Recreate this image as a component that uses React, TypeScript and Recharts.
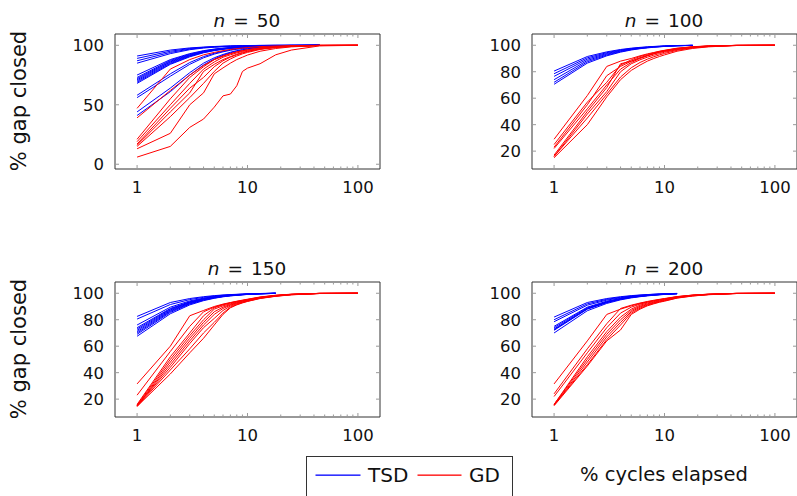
import React from 'react';
import { LineChart, Line, XAxis, YAxis } from 'recharts';

// ---------- data ----------
const cycles = [1, 2, 3, 4, 5, 6, 7, 8, 9, 10, 13, 18, 25, 45, 100];
const majorXTicks = [1, 10, 100];
const allXTicks = [1, 2, 3, 4, 5, 6, 7, 8, 9, 10, 20, 30, 40, 50, 60, 70, 80, 90, 100];
const xTickLabels = ['1', '10', '100'];
const yTicksN50 = [0, 50, 100];
const yTicksOther = [20, 40, 60, 80, 100];
const panelTitles = ['50', '100', '150', '200'];
const seriesNames = ['TSD', 'GD'];

const tsdN50 = [
  [91, 96, 97.8, 98.5, 99, 99.3, 99.5, 99.6, 99.7, 99.8, 99.9, 100, 100, 100],
  [89, 95, 97.3, 98.3, 98.8, 99.1, 99.3, 99.5, 99.6, 99.7, 99.9, 100, 100, 100],
  [87, 94, 96.8, 98, 98.6, 99, 99.2, 99.4, 99.5, 99.6, 99.8, 99.9, 100, 100],
  [85, 93, 96.3, 97.7, 98.4, 98.8, 99.1, 99.3, 99.4, 99.5, 99.8, 99.9, 100, 100],
  [75, 88, 93, 95.5, 96.8, 97.6, 98.1, 98.5, 98.8, 99, 99.4, 99.7, 99.9, 100],
  [73, 87.3, 92.5, 95.2, 96.6, 97.4, 98, 98.4, 98.7, 98.9, 99.3, 99.7, 99.9, 100],
  [72, 86.6, 92, 94.9, 96.4, 97.3, 97.9, 98.3, 98.6, 98.8, 99.3, 99.6, 99.9, 100],
  [71, 86, 91.6, 94.6, 96.2, 97.1, 97.7, 98.2, 98.5, 98.7, 99.2, 99.6, 99.8, 100],
  [70, 85.3, 91.2, 94.3, 96, 97, 97.6, 98.1, 98.4, 98.7, 99.2, 99.6, 99.8, 100],
  [69, 84.6, 90.8, 94, 95.8, 96.8, 97.5, 98, 98.3, 98.6, 99.1, 99.5, 99.8, 100],
  [68, 84, 90.3, 93.7, 95.5, 96.6, 97.3, 97.8, 98.2, 98.5, 99.1, 99.5, 99.8, 100],
  [58, 76, 85.5, 90.5, 93.3, 95, 96.2, 97, 97.6, 98, 98.8, 99.4, 99.7, 100],
  [56, 74, 84, 89.5, 92.6, 94.5, 95.8, 96.7, 97.3, 97.8, 98.7, 99.3, 99.7, 100],
  [44, 64, 77, 85, 89.5, 92.3, 94.2, 95.5, 96.4, 97.1, 98.3, 99.1, 99.6, 100],
  [41, 61, 75, 83.5, 88.5, 91.6, 93.7, 95.1, 96.1, 96.9, 98.2, 99, 99.5, 100],
];
const gdN50 = [
  [47, 80, 88, 92, 94, 95.5, 96.5, 97.2, 97.7, 98.1, 98.9, 99.4, 99.7, 100, 100],
  [39, 62, 75, 83, 88, 91, 93, 94.4, 95.4, 96.2, 97.8, 98.8, 99.4, 99.9, 100],
  [21, 55, 73, 82, 88, 91, 93, 94.5, 95.5, 96.3, 97.8, 98.8, 99.4, 99.9, 100],
  [19, 50, 68, 80, 86, 90, 92, 93.6, 94.8, 95.7, 97.4, 98.6, 99.3, 99.9, 100],
  [17, 47, 64, 73, 82, 87, 90, 92, 93.5, 94.7, 96.9, 98.3, 99.2, 99.9, 100],
  [16, 44, 60, 78, 84, 88, 90.5, 92.5, 94, 95, 97, 98.4, 99.2, 99.9, 100],
  [15, 40, 56, 68, 78, 85, 88.5, 91, 92.8, 94, 96.5, 98.1, 99, 99.8, 100],
  [13, 26, 50, 60, 76, 81, 85, 88, 90, 91.8, 95, 97.3, 98.7, 99.8, 100],
  [6, 15, 31, 38, 48, 57.5, 59, 66, 78, 80.8, 84.5, 92, 96, 99.5, 100],
];

const tsdN100 = [
  [80.5, 91.5, 95, 96.8, 97.8, 98.4, 98.8, 99.1, 99.3, 99.5, 99.8, 100],
  [78.5, 90.5, 94.4, 96.4, 97.5, 98.2, 98.6, 99, 99.2, 99.4, 99.7, 99.9],
  [76.5, 89.5, 93.8, 96, 97.2, 98, 98.5, 98.9, 99.1, 99.3, 99.7, 99.9],
  [74, 88.5, 93.2, 95.6, 97, 97.8, 98.3, 98.8, 99, 99.2, 99.7, 99.9],
  [72, 87.5, 92.6, 95.2, 96.7, 97.6, 98.2, 98.6, 98.9, 99.2, 99.6, 99.9],
  [70.5, 86.5, 92, 94.8, 96.4, 97.4, 98, 98.5, 98.8, 99.1, 99.6, 99.9],
];
const gdN100 = [
  [29, 62, 84, 88, 90, 92, 93.5, 94.5, 95.5, 96.2, 97.8, 98.9, 99.5, 99.9, 100],
  [25, 57, 72, 85, 89, 91.5, 93, 94.3, 95.3, 96, 97.6, 98.8, 99.4, 99.9, 100],
  [23, 55, 77, 84, 88, 90.5, 92.3, 93.8, 95, 95.8, 97.4, 98.7, 99.4, 99.9, 100],
  [22, 52, 70, 82, 87, 90, 92, 93.5, 94.7, 95.5, 97.2, 98.6, 99.3, 99.9, 100],
  [17, 50, 68, 86, 88, 90.5, 92.3, 93.6, 94.6, 95.4, 97.1, 98.5, 99.3, 99.9, 100],
  [16, 48, 65, 80, 86, 89, 91, 92.5, 93.7, 94.7, 96.7, 98.3, 99.2, 99.9, 100],
  [16, 45, 63, 76, 83, 87, 89.5, 91.3, 92.7, 93.8, 96.2, 98, 99, 99.8, 100],
  [15, 40, 61, 74, 81, 85, 88, 90, 91.5, 92.7, 95.5, 97.6, 98.8, 99.8, 100],
];

const tsdN150 = [
  [82.5, 93, 96, 97.4, 98.2, 98.7, 99, 99.2, 99.4, 99.5, 99.8, 100],
  [80.5, 91.5, 95.2, 96.9, 97.9, 98.5, 98.9, 99.1, 99.3, 99.5, 99.8, 100],
  [76, 89.5, 94.2, 96.3, 97.5, 98.2, 98.7, 99, 99.2, 99.4, 99.7, 100],
  [74, 88.5, 93.6, 96, 97.3, 98.1, 98.6, 98.9, 99.1, 99.3, 99.7, 100],
  [73, 88, 93.3, 95.8, 97.1, 98, 98.5, 98.8, 99.1, 99.3, 99.7, 100],
  [72, 87.4, 93, 95.6, 97, 97.9, 98.4, 98.8, 99, 99.3, 99.7, 99.9],
  [71, 86.8, 92.6, 95.3, 96.8, 97.7, 98.3, 98.7, 99, 99.2, 99.6, 99.9],
  [70, 86.2, 92.2, 95, 96.6, 97.6, 98.2, 98.6, 98.9, 99.2, 99.6, 99.9],
  [69, 85.5, 91.8, 94.8, 96.4, 97.5, 98.1, 98.5, 98.9, 99.1, 99.6, 99.9],
  [67.5, 84.5, 91.2, 94.4, 96.2, 97.3, 98, 98.4, 98.8, 99.1, 99.6, 99.9],
];
const gdN150 = [
  [31.5, 60, 83, 87, 90, 91.8, 93, 94, 94.8, 95.5, 97.2, 98.5, 99.3, 99.9, 100],
  [23, 56, 75, 86, 89.5, 91.5, 92.8, 93.8, 94.6, 95.3, 97, 98.4, 99.2, 99.9, 100],
  [16, 52, 70, 83, 89, 91.3, 92.6, 93.6, 94.4, 95.1, 96.9, 98.3, 99.2, 99.9, 100],
  [15.5, 50, 68, 80, 88, 90.5, 92, 93.2, 94.1, 94.8, 96.7, 98.2, 99.1, 99.9, 100],
  [15, 48, 66, 78, 86, 89.5, 91.5, 92.8, 93.8, 94.6, 96.6, 98.1, 99.1, 99.9, 100],
  [15, 46, 64, 76, 84, 88.5, 91, 92.4, 93.5, 94.4, 96.5, 98, 99, 99.9, 100],
  [15, 44, 62, 74, 81, 87, 90.3, 92, 93.2, 94.2, 96.3, 97.9, 99, 99.8, 100],
  [14.5, 42, 58, 70, 78, 85, 89.5, 91.5, 92.9, 94, 96.2, 97.8, 98.9, 99.8, 100],
  [14.5, 39, 55, 66, 76, 84, 89, 91.2, 92.7, 93.8, 96, 97.7, 98.8, 99.8, 100],
];

const tsdN200 = [
  [82, 93, 96, 97.4, 98.2, 98.7, 99, 99.3, 99.5, 99.6, 99.9],
  [80, 92, 95.4, 97, 97.9, 98.5, 98.9, 99.2, 99.4, 99.5, 99.8],
  [78.5, 91, 94.8, 96.6, 97.7, 98.3, 98.7, 99, 99.3, 99.5, 99.8],
  [75, 89.5, 94, 96.1, 97.3, 98, 98.5, 98.9, 99.2, 99.4, 99.8],
  [74, 89, 93.6, 95.9, 97.2, 97.9, 98.4, 98.8, 99.1, 99.3, 99.7],
  [73, 88.5, 93.3, 95.7, 97, 97.8, 98.3, 98.7, 99, 99.3, 99.7],
  [72.5, 88.2, 93.1, 95.6, 96.9, 97.7, 98.3, 98.7, 99, 99.2, 99.7],
  [72, 88, 92.9, 95.4, 96.8, 97.6, 98.2, 98.6, 98.9, 99.2, 99.7],
  [70, 86.8, 92.3, 95, 96.5, 97.4, 98, 98.5, 98.8, 99.1, 99.6],
];
const gdN200 = [
  [31.5, 64, 84, 88, 90.5, 92.3, 93.5, 94.4, 95.2, 95.8, 97.4, 98.6, 99.3, 99.9, 100],
  [24, 58, 77, 88.5, 91, 92.6, 93.8, 94.7, 95.4, 96, 97.5, 98.6, 99.3, 99.9, 100],
  [22, 55, 74, 85, 89.5, 91.8, 93.2, 94.2, 95, 95.7, 97.3, 98.5, 99.2, 99.9, 100],
  [16, 52, 71, 82, 88, 91, 92.6, 93.7, 94.6, 95.3, 97.1, 98.4, 99.2, 99.9, 100],
  [16, 50, 69, 80, 87, 90.2, 92, 93.2, 94.2, 95, 96.9, 98.3, 99.1, 99.9, 100],
  [15.5, 48, 67, 78, 86, 89.5, 91.5, 92.8, 93.8, 94.6, 96.7, 98.2, 99, 99.8, 100],
  [15.5, 46, 65, 76, 85, 88.7, 91, 92.4, 93.5, 94.3, 96.5, 98, 99, 99.8, 100],
  [15, 45, 64, 72.3, 84, 88, 90.5, 92, 93.2, 94, 96.3, 97.9, 98.9, 99.8, 100],
];

// ---------- layout / style ----------
const PW = 265;
const PH = 135;
const YW = 80;
const MT = 10;
const MR = 10;
const XH = 40;
const X_DOMAIN: [number, number] = [0.631, 158.5];
const AXIS = '#333';
const TICK = '#999';
const FONT = '"DejaVu Sans", sans-serif';
const BLUE = '#0000ff';
const RED = '#ff0000';

function buildRows(tsd: number[][], gd: number[][]) {
  return cycles.map((x, i) => {
    const row: Record<string, number | null> = { x };
    tsd.forEach((s, k) => {
      row[`t${k}`] = i < s.length ? s[i] : null;
    });
    gd.forEach((s, k) => {
      row[`g${k}`] = i < s.length ? s[i] : null;
    });
    return row;
  });
}

function BottomTick(props: any) {
  const { x, y, payload } = props;
  const v = payload.value;
  const mi = majorXTicks.indexOf(v);
  return (
    <g>
      <line x1={x} x2={x} y1={y} y2={y - (mi >= 0 ? 4 : 2.5)} stroke={TICK} strokeWidth={1} />
      {mi >= 0 ? (
        <text x={x} y={y + 23.5} textAnchor="middle" fontSize={16.5} fontFamily={FONT} fill="#111">
          {xTickLabels[mi]}
        </text>
      ) : null}
    </g>
  );
}

function TopTick(props: any) {
  const { x, y, payload } = props;
  const major = majorXTicks.indexOf(payload.value) >= 0;
  return <line x1={x} x2={x} y1={y} y2={y + (major ? 4 : 2.5)} stroke={TICK} strokeWidth={1} />;
}

function LeftTick(props: any) {
  const { x, y, payload } = props;
  return (
    <g>
      <line x1={x} x2={x + 4} y1={y} y2={y} stroke={TICK} strokeWidth={1} />
      <text x={x - 11} y={y} dy="0.36em" textAnchor="end" fontSize={16.5} fontFamily={FONT} fill="#111">
        {payload.value}
      </text>
    </g>
  );
}

function RightTick(props: any) {
  const { x, y } = props;
  return <line x1={x} x2={x - 4} y1={y} y2={y} stroke={TICK} strokeWidth={1} />;
}

type PanelProps = {
  left: number;
  top: number;
  tsd: number[][];
  gd: number[][];
  yDomain: [number, number];
  yTicks: number[];
};

function Panel({ left, top, tsd, gd, yDomain, yTicks }: PanelProps) {
  const data = buildRows(tsd, gd);
  return (
    <div style={{ position: 'absolute', left: left - YW, top: top - MT }}>
      <LineChart
        width={YW + PW + MR}
        height={MT + PH + XH}
        data={data}
        margin={{ top: MT, right: MR, bottom: 0, left: 0 }}
      >
        <XAxis
          xAxisId="main"
          dataKey="x"
          type="number"
          scale="log"
          domain={X_DOMAIN}
          allowDataOverflow
          ticks={allXTicks}
          interval={0}
          height={XH}
          tickSize={0}
          tickMargin={0}
          tickLine={false}
          axisLine={{ stroke: AXIS, strokeWidth: 1 }}
          tick={BottomTick}
        />
        <XAxis
          xAxisId="top"
          dataKey="x"
          type="number"
          scale="log"
          domain={X_DOMAIN}
          allowDataOverflow
          orientation="top"
          mirror
          height={1}
          ticks={allXTicks}
          interval={0}
          tickSize={0}
          tickMargin={0}
          tickLine={false}
          axisLine={{ stroke: AXIS, strokeWidth: 1 }}
          tick={TopTick}
        />
        <YAxis
          yAxisId="main"
          type="number"
          domain={yDomain}
          allowDataOverflow
          ticks={yTicks}
          interval={0}
          width={YW}
          tickSize={0}
          tickMargin={0}
          tickLine={false}
          axisLine={{ stroke: AXIS, strokeWidth: 1 }}
          tick={LeftTick}
        />
        <YAxis
          yAxisId="right"
          type="number"
          domain={yDomain}
          allowDataOverflow
          orientation="right"
          mirror
          width={1}
          ticks={yTicks}
          interval={0}
          tickSize={0}
          tickMargin={0}
          tickLine={false}
          axisLine={{ stroke: AXIS, strokeWidth: 1 }}
          tick={RightTick}
        />
        {tsd.map((_, k) => (
          <Line
            key={`t${k}`}
            xAxisId="main"
            yAxisId="main"
            type="linear"
            dataKey={`t${k}`}
            stroke={BLUE}
            strokeWidth={1}
            dot={false}
            activeDot={false}
            isAnimationActive={false}
          />
        ))}
        {gd.map((_, k) => (
          <Line
            key={`g${k}`}
            xAxisId="main"
            yAxisId="main"
            type="linear"
            dataKey={`g${k}`}
            stroke={RED}
            strokeWidth={1}
            dot={false}
            activeDot={false}
            isAnimationActive={false}
          />
        ))}
      </LineChart>
    </div>
  );
}

const panels = [
  { left: 114.5, top: 33.5, tsd: tsdN50, gd: gdN50, yDomain: [-4, 109.5] as [number, number], yTicks: yTicksN50 },
  { left: 531.5, top: 33.5, tsd: tsdN100, gd: gdN100, yDomain: [6.5, 108.5] as [number, number], yTicks: yTicksOther },
  { left: 114.5, top: 281.5, tsd: tsdN150, gd: gdN150, yDomain: [6.5, 108.5] as [number, number], yTicks: yTicksOther },
  { left: 531.5, top: 281.5, tsd: tsdN200, gd: gdN200, yDomain: [6.5, 108.5] as [number, number], yTicks: yTicksOther },
];

export default function App() {
  return (
    <div
      style={{
        position: 'absolute',
        left: 0,
        top: 0,
        width: 797,
        height: 496,
        overflow: 'hidden',
        background: '#fff',
        fontFamily: FONT,
      }}
    >
      {panels.map((p, i) => (
        <Panel key={i} {...p} />
      ))}
      <svg
        width={797}
        height={496}
        style={{ position: 'absolute', left: 0, top: 0, pointerEvents: 'none' }}
      >
        {panels.map((p, i) => (
          <text
            key={`title${i}`}
            x={p.left + PW / 2}
            y={p.top - 7}
            textAnchor="middle"
            fontSize={18.5}
            fontFamily={FONT}
            fill="#111"
          >
            <tspan fontStyle="italic">n</tspan>
            <tspan dx={8}>=</tspan>
            <tspan dx={8}>{panelTitles[i]}</tspan>
          </text>
        ))}
        {[panels[0], panels[2]].map((p, i) => (
          <text
            key={`ylab${i}`}
            x={26}
            y={p.top + PH / 2}
            transform={`rotate(-90 26 ${p.top + PH / 2})`}
            textAnchor="middle"
            fontSize={21}
            fontFamily={FONT}
            fill="#111"
          >
            % gap closed
          </text>
        ))}
        <text x={664} y={481} textAnchor="middle" fontSize={19.5} fontFamily={FONT} fill="#111">
          % cycles elapsed
        </text>
        <rect x={306.5} y={456.5} width={206} height={60} fill="#fff" stroke={AXIS} strokeWidth={1} />
        <rect x={315.5} y={474.5} width={45} height={1.3} fill={BLUE} />
        <text x={368} y={482} fontSize={20} fontFamily={FONT} fill="#111">
          {seriesNames[0]}
        </text>
        <rect x={417.5} y={474.5} width={44} height={1.3} fill={RED} />
        <text x={469} y={482} fontSize={20} fontFamily={FONT} fill="#111">
          {seriesNames[1]}
        </text>
      </svg>
    </div>
  );
}
